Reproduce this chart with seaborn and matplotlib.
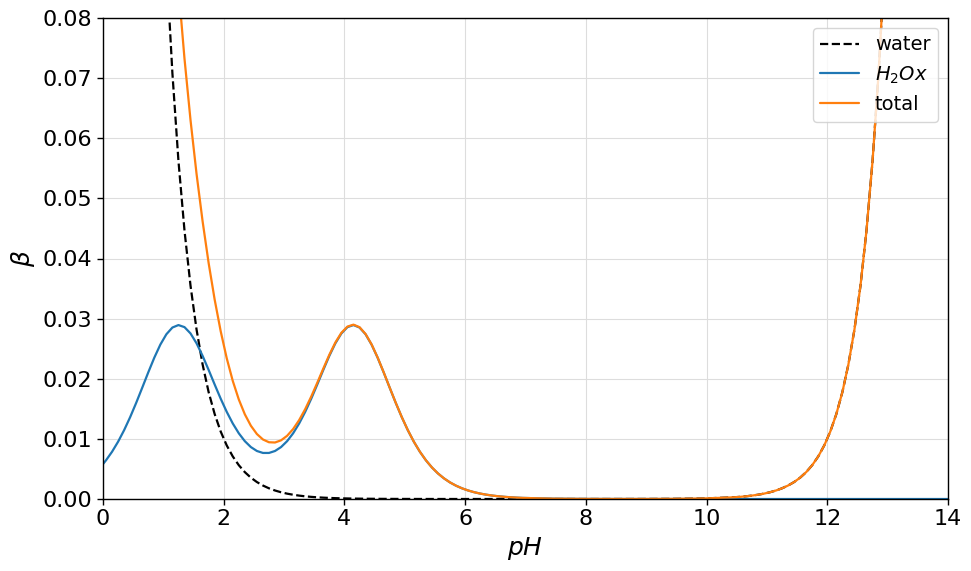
import matplotlib
matplotlib.use("Agg")
import matplotlib.pyplot as plt
import seaborn as sns
import pandas as pd

ph = [0.0, 0.05, 0.15, 0.25, 0.35, 0.45, 0.55, 0.65, 0.75, 0.85, 0.95,
      1.05, 1.15, 1.25, 1.35, 1.45, 1.55, 1.65, 1.75, 1.85, 1.95,
      2.05, 2.15, 2.25, 2.35, 2.45, 2.55, 2.65, 2.75, 2.85, 2.95,
      3.05, 3.15, 3.25, 3.35, 3.45, 3.55, 3.65, 3.75, 3.85, 3.95,
      4.05, 4.15, 4.25, 4.35, 4.45, 4.55, 4.65, 4.75, 4.85, 4.95,
      5.05, 5.15, 5.25, 5.35, 5.45, 5.55, 5.65, 5.75, 5.85, 5.95,
      6.05, 6.15, 6.25, 6.35, 6.45, 6.55, 6.65, 6.75, 6.85, 6.95,
      7.45, 7.95, 8.45, 8.95, 9.45, 9.95, 10.45,
      10.55, 10.65, 10.75, 10.85, 10.95, 11.05, 11.15, 11.25, 11.35, 11.45,
      11.55, 11.65, 11.75, 11.85, 11.95, 12.05, 12.15, 12.25, 12.35, 12.45,
      12.55, 12.65, 12.75, 12.85, 12.95, 13.05, 13.5, 14.0]

water = [1.0, 0.8913, 0.7079, 0.5623, 0.4467, 0.3548, 0.2818, 0.2239, 0.1778, 0.1413, 0.1122,
         0.08913, 0.07079, 0.05623, 0.04467, 0.03548, 0.02818, 0.02239, 0.01778, 0.01413, 0.01122,
         0.008913, 0.007079, 0.005623, 0.004467, 0.003548, 0.002818, 0.002239, 0.001778, 0.001413, 0.001122,
         0.000891, 0.000708, 0.000562, 0.000447, 0.000355, 0.000282, 0.000224, 0.000178, 0.000141, 0.000112,
         0.000089, 0.000071, 0.000056, 0.000045, 0.000036, 0.000028, 0.000022, 0.000018, 0.000014, 0.000011,
         0.000009, 0.000007, 0.000006, 0.000004, 0.000004, 0.000003, 0.000002, 0.000002, 0.000001, 0.000001,
         0.000001, 0.0000007, 0.0000006, 0.0000004, 0.0000004, 0.0000003, 0.0000002, 0.0000002, 0.0000001, 0.0000001,
         0.0000003, 0.0000009, 0.0000028, 0.0000089, 0.000028, 0.000089, 0.000282,
         0.000355, 0.000447, 0.000562, 0.000708, 0.000891, 0.001122, 0.001413, 0.001778, 0.002239, 0.002818,
         0.003548, 0.004467, 0.005623, 0.007079, 0.008913, 0.01122, 0.01413, 0.01778, 0.02239, 0.02818,
         0.03548, 0.04467, 0.05623, 0.07079, 0.08913, 0.1122, 0.3162, 1.0]

h2ox = [0.00581, 0.006437, 0.007861, 0.009529, 0.011451, 0.013619, 0.015994, 0.018509, 0.021061, 0.023507, 0.025678,
        0.027400, 0.028520, 0.028928, 0.028587, 0.027538, 0.025893, 0.023811, 0.021470, 0.019044, 0.016682,
        0.014496, 0.012562, 0.010928, 0.009617, 0.008636, 0.007985, 0.007660, 0.007660, 0.007985, 0.008636,
        0.009617, 0.010928, 0.012562, 0.014496, 0.016682, 0.019044, 0.021470, 0.023811, 0.025893, 0.027538,
        0.028587, 0.028928, 0.028520, 0.027400, 0.025678, 0.023507, 0.021061, 0.018509, 0.015994, 0.013619,
        0.011451, 0.009529, 0.007861, 0.006437, 0.005240, 0.004245, 0.003426, 0.002752, 0.002208, 0.001768,
        0.001414, 0.001129, 0.000900, 0.000717, 0.000571, 0.000455, 0.000362, 0.000288, 0.000229, 0.000182,
        0.000058, 0.000018, 0.000006, 0.000002, 0.000001, 0.0, 0.0,
        0.0, 0.0, 0.0, 0.0, 0.0, 0.0, 0.0, 0.0, 0.0, 0.0,
        0.0, 0.0, 0.0, 0.0, 0.0, 0.0, 0.0, 0.0, 0.0, 0.0,
        0.0, 0.0, 0.0, 0.0, 0.0, 0.0, 0.0, 0.0]

total = [1.0058, 0.8977, 0.7158, 0.5718, 0.4582, 0.3684, 0.2978, 0.2424, 0.1989, 0.1648, 0.1379,
         0.11653, 0.09931, 0.08516, 0.07326, 0.06302, 0.05407, 0.04620, 0.03925, 0.03317, 0.02790,
         0.023409, 0.019641, 0.016551, 0.014084, 0.012184, 0.010803, 0.009899, 0.009438, 0.009398, 0.009758,
         0.010508, 0.011636, 0.013124, 0.014943, 0.017037, 0.019326, 0.021694, 0.023989, 0.026034, 0.027650,
         0.028676, 0.028999, 0.028576, 0.027445, 0.025714, 0.023535, 0.021083, 0.018527, 0.016008, 0.013630,
         0.011460, 0.009536, 0.007867, 0.006441, 0.005244, 0.004248, 0.003428, 0.002754, 0.002209, 0.001769,
         0.001415, 0.001130, 0.000901, 0.000718, 0.000571, 0.000455, 0.000362, 0.000288, 0.000229, 0.000182,
         0.000058, 0.000019, 0.000009, 0.000011, 0.000029, 0.000089, 0.000282,
         0.000355, 0.000447, 0.000562, 0.000708, 0.000891, 0.001122, 0.001413, 0.001778, 0.002239, 0.002818,
         0.003548, 0.004467, 0.005623, 0.007079, 0.008913, 0.01122, 0.01413, 0.01778, 0.02239, 0.02818,
         0.03548, 0.04467, 0.05623, 0.07079, 0.08913, 0.1122, 0.3162, 1.0]

series_names = ["water", "$H_2Ox$", "total"]
xticks = [0, 2, 4, 6, 8, 10, 12, 14]
yticks = [0.0, 0.01, 0.02, 0.03, 0.04, 0.05, 0.06, 0.07, 0.08]

df = pd.DataFrame({"pH": ph, "water": water, "h2ox": h2ox, "total": total})

sns.set_style("ticks")
plt.rcParams["font.family"] = ["DejaVu Sans"]
plt.rcParams["text.color"] = "black"
plt.rcParams["axes.labelcolor"] = "black"
plt.rcParams["xtick.color"] = "black"
plt.rcParams["ytick.color"] = "black"

fig = plt.figure(figsize=(9.71, 5.71), dpi=100)
ax = fig.add_axes([103 / 971, 1 - 499 / 571, 845 / 971, 481 / 571])

sns.lineplot(data=df, x="pH", y="water", ax=ax, color="black", linestyle="--",
             linewidth=1.6, label=series_names[0], sort=False)
sns.lineplot(data=df, x="pH", y="h2ox", ax=ax, color="#1f77b4",
             linewidth=1.6, label=series_names[1], sort=False)
sns.lineplot(data=df, x="pH", y="total", ax=ax, color="#ff7f0e",
             linewidth=1.6, label=series_names[2], sort=False)

ax.set_xlim(0, 14)
ax.set_ylim(0, 0.08)
ax.set_xticks(xticks)
ax.set_yticks(yticks)
ax.set_xticklabels([str(t) for t in xticks])
ax.set_yticklabels([f"{t:.2f}" for t in yticks])
ax.tick_params(labelsize=16, direction="out", length=4, width=1,
               colors="black", labelcolor="black")
ax.grid(True, color="#dddddd", linewidth=0.8)
ax.set_axisbelow(True)
for s in ax.spines.values():
    s.set_visible(True)
    s.set_color("black")
    s.set_linewidth(1.0)

ax.set_xlabel("$pH$", fontsize=18, color="black")
ax.set_ylabel(r"$\beta$", fontsize=18, color="black")

leg = ax.legend(loc="upper right", fontsize=14, frameon=True, framealpha=0.8,
                edgecolor="#cccccc", fancybox=True)
for t in leg.get_texts():
    t.set_color("black")

fig.savefig("out.png", dpi=100)
